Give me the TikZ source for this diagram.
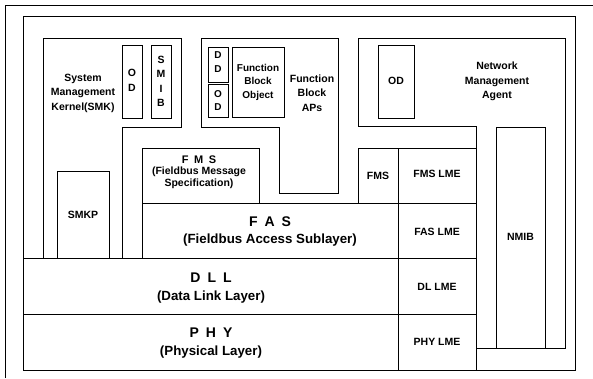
\documentclass[tikz,border=0pt]{standalone}
\usepackage{fontspec}
\setmainfont{Liberation Sans}
\begin{document}
\begin{tikzpicture}[x=1pt,y=-1pt,line width=1pt,
  box/.style={draw,inner sep=0pt,outer sep=0pt,anchor=north west},
  txt/.style={align=center,inner sep=0pt,font=\fontsize{10.5}{14.5}\selectfont\bfseries},
  txtt/.style={align=center,inner sep=0pt,font=\fontsize{10}{13.5}\selectfont\bfseries},
  sml/.style={inner sep=0pt,font=\fontsize{10.5}{12}\selectfont\bfseries},
  hd/.style={inner sep=0pt,font=\fontsize{14}{16}\selectfont\bfseries},
  sub/.style={inner sep=0pt,font=\fontsize{13.3}{16}\selectfont\bfseries}]
\useasboundingbox (0,0) rectangle (593,378);
% outer border and frame
\draw (5,378) -- (5,5) -- (593,5);
\draw (23.5,16) rectangle (575,370);
% System Management Kernel
\draw (43,258.5) -- (43,38) -- (181,38) -- (181,127) -- (122,127) -- (122,258.5);
\node[box,minimum width=20pt,minimum height=73pt] (smkod) at (122,45) {};
\node[txt] (smkodt) at (132,80.5) {O\\D};
\node[box,minimum width=20pt,minimum height=73pt] (smib) at (151,45) {};
\node[txt] (smibt) at (161,81.5) {S\\M\\I\\B};
\node[txt] (smkt) at (83,93) {System\\Management\\Kernel(SMK)};
\node[box,minimum width=52pt,minimum height=87.5pt] (smkp) at (57,171) {};
\node[sml] (smkpt) at (83,215) {SMKP};
% Function Block APs
\draw (201,127) -- (201,38) -- (338,38) -- (338,193) -- (279,193) -- (279,127) -- cycle;
\node[box,minimum width=20pt,minimum height=35pt] (dd) at (208,47) {};
\node[txtt] (ddt) at (218,62) {D\\D};
\node[box,minimum width=20pt,minimum height=33pt] (fbod) at (208,84) {};
\node[txtt] (fbodt) at (218,100.5) {O\\D};
\node[box,minimum width=52pt,minimum height=70pt] (fbo) at (232,47) {};
\node[txtt] (fbot) at (258,82) {Function\\Block\\Object};
\node[txt] (fbapt) at (312,93) {Function\\Block\\APs};
% Network Management Agent
\draw (358,38) -- (565,38) -- (565,348) -- (476,348) -- (476,126) -- (358,126) -- cycle;
\node[box,minimum width=36pt,minimum height=73pt] (nmaod) at (378,45) {};
\node[sml] (nmaodt) at (396,81) {OD};
\node[txt] (nmat) at (497,81.5) {Network\\Management\\Agent};
\node[box,minimum width=49pt,minimum height=221pt] (nmib) at (496,127) {};
\node[sml] (nmibt) at (520.5,237) {NMIB};
% FMS
\node[box,minimum width=117pt,minimum height=55pt] (fms) at (142,148) {};
\node[inner sep=0pt,font=\fontsize{11}{12}\selectfont\bfseries] (fmsh) at (199,160) {F\hspace{0.5em}M\hspace{0.5em}S};
\node[align=center,inner sep=0pt,font=\fontsize{10.5}{12}\selectfont\bfseries] (fmss) at (199,178) {(Fieldbus Message\\Specification)};
\node[box,minimum width=40pt,minimum height=55pt] (fmsb) at (358,148) {};
\node[sml] (fmsbt) at (378,176) {FMS};
\node[box,minimum width=78pt,minimum height=55pt] (fmslme) at (398,148) {};
\node[sml] (fmslmet) at (437,174) {FMS LME};
% FAS
\node[box,minimum width=256pt,minimum height=55.5pt] (fas) at (142,203) {};
\node[hd] (fash) at (270,222) {F\hspace{0.5em}A\hspace{0.5em}S};
\node[sub] (fass) at (270,240) {(Fieldbus Access Sublayer)};
\node[box,minimum width=78pt,minimum height=55.5pt] (faslme) at (398,203) {};
\node[sml] (faslmet) at (437,232) {FAS LME};
% DLL
\node[box,minimum width=374.5pt,minimum height=55.5pt] (dll) at (23.5,258.5) {};
\node[hd] (dllh) at (211,278) {D\hspace{0.5em}L\hspace{0.5em}L};
\node[sub] (dlls) at (211,297) {(Data Link Layer)};
\node[box,minimum width=78pt,minimum height=55.5pt] (dllme) at (398,258.5) {};
\node[sml] (dllmet) at (437,287) {DL LME};
% PHY
\node[box,minimum width=374.5pt,minimum height=56pt] (phy) at (23.5,314) {};
\node[hd] (phyh) at (211,333) {P\hspace{0.5em}H\hspace{0.5em}Y};
\node[sub] (phys) at (211,352) {(Physical Layer)};
\node[box,minimum width=78pt,minimum height=56pt] (phylme) at (398,314) {};
\node[sml] (phylmet) at (437,342) {PHY LME};
\end{tikzpicture}
\end{document}
